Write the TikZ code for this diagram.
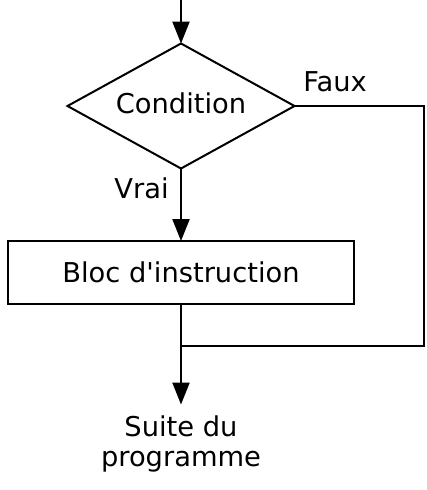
\documentclass[tikz,border=0pt]{standalone}
\usepackage{fontspec}
\setmainfont{DejaVu Sans}
\usetikzlibrary{shapes.geometric,arrows.meta}
\begin{document}
\begin{tikzpicture}[x=1pt,y=-1pt,
  every node/.style={inner sep=0pt,outer sep=0pt,font=\fontsize{27.3}{30}\selectfont},
  line/.style={line width=2.3pt,line join=miter},
  arr/.style={line,-{Triangle[length=22pt,width=17pt]}},
  decision/.style={diamond,draw,line width=2pt,shape aspect=1.816,minimum width=227pt,minimum height=125pt,text depth=6.5pt},
  block/.style={rectangle,draw,line width=2pt,minimum width=346pt,minimum height=63pt}]
\fill[white] (0,0) rectangle (427,490);
\useasboundingbox (0,0) rectangle (427,490);
\coordinate (start) at (181,0);
\node[decision] (cond) at (181,106) {Condition};
\node[block] (bloc) at (181,272.5) {Bloc d\textquotesingle instruction};
\node[align=center,anchor=north] (suite) at (181,415.5) {Suite du\\programme};
\node (faux) at (335,82) {Faux};
\node (vrai) at (141.5,188.5) {Vrai};
\coordinate (c1) at (424,106);
\coordinate (c2) at (424,346);
\coordinate (j) at (181,346);
\draw[arr] (start) -- (cond.north);
\draw[arr] (cond.south) -- (bloc.north);
\draw[arr,shorten >=11pt] (bloc.south) -- (suite.north);
\draw[line] (cond.east) -- (c1) -- (c2) -- (j);
\end{tikzpicture}
\end{document}
